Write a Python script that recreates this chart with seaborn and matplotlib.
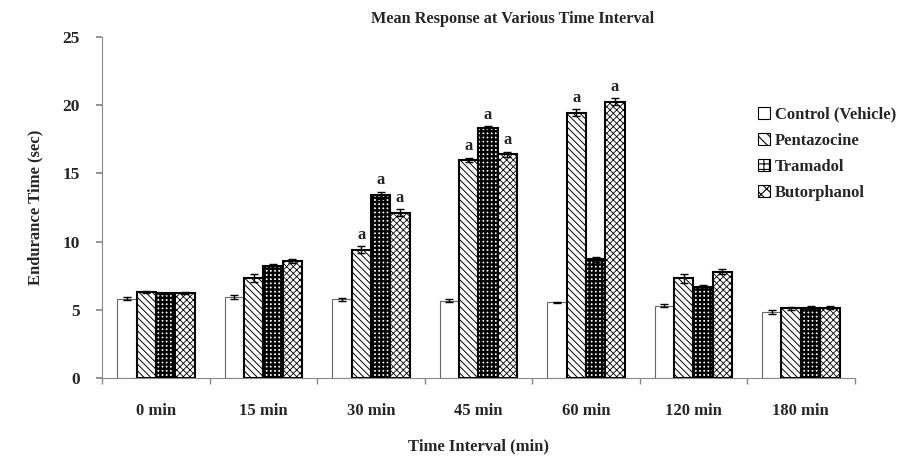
import numpy as np
import pandas as pd
import matplotlib
matplotlib.use('Agg')
import matplotlib.pyplot as plt
import seaborn as sns

# ------------------------------------------------------------
# Данные
# ------------------------------------------------------------
intervals = ["0 min", "15 min", "30 min", "45 min", "60 min", "120 min", "180 min"]
groups = ["Control (Vehicle)", "Pentazocine", "Tramadol", "Butorphanol"]

control = [5.8, 5.9, 5.75, 5.65, 5.55, 5.3, 4.85]
pentazocine = [6.3, 7.3, 9.4, 16.0, 19.45, 7.3, 5.1]
tramadol = [6.2, 8.2, 13.4, 18.3, 8.7, 6.65, 5.15]
butorphanol = [6.2, 8.6, 12.1, 16.4, 20.25, 7.8, 5.15]

control_err = [0.12, 0.15, 0.1, 0.1, 0.05, 0.1, 0.15]
pentazocine_err = [0.1, 0.3, 0.25, 0.15, 0.25, 0.35, 0.1]
tramadol_err = [0.05, 0.15, 0.25, 0.15, 0.2, 0.15, 0.1]
butorphanol_err = [0.08, 0.15, 0.25, 0.2, 0.25, 0.2, 0.1]

# значимые отличия ("a"): (группа, интервал)
signif = [
    ("Pentazocine", "30 min"), ("Tramadol", "30 min"), ("Butorphanol", "30 min"),
    ("Pentazocine", "45 min"), ("Tramadol", "45 min"), ("Butorphanol", "45 min"),
    ("Pentazocine", "60 min"), ("Butorphanol", "60 min"),
]

values = [control, pentazocine, tramadol, butorphanol]
errors = [control_err, pentazocine_err, tramadol_err, butorphanol_err]

df = pd.DataFrame({
    "interval": np.tile(intervals, len(groups)),
    "group": np.repeat(groups, len(intervals)),
    "value": np.concatenate(values),
})

# ------------------------------------------------------------
# Визуализация
# ------------------------------------------------------------
sns.set_theme(style="white")
plt.rcParams['font.family'] = ['Liberation Serif', 'DejaVu Serif']
plt.rcParams['hatch.linewidth'] = 0.8

fig = plt.figure(figsize=(9.13, 4.62), dpi=100)
ax = fig.add_axes([0.112, 0.182, 0.824, 0.738])

sns.barplot(
    data=df, x="interval", y="value", hue="group",
    order=intervals, hue_order=groups,
    palette=["white"] * 4, errorbar=None, width=0.72, gap=0,
    saturation=1, ax=ax, legend=True,
)

hatches = [None, "\\\\\\\\\\", "++++", "xxxxx"]
hatch_lw = [0.8, 0.7, 1.7, 0.6]
bar_containers = list(ax.containers)
for i, cont in enumerate(bar_containers):
    for j, bar in enumerate(cont.patches):
        if i == 0:
            bar.set_edgecolor("#666666")
            bar.set_linewidth(0.8)
        else:
            bar.set_edgecolor("black")
            bar.set_linewidth(1.5)
            bar.set_hatch(hatches[i])
            if hasattr(bar, "set_hatch_linewidth"):
                bar.set_hatch_linewidth(hatch_lw[i])
        xc = bar.get_x() + bar.get_width() / 2
        top = bar.get_height()
        err = errors[i][j]
        ax.errorbar(xc, top, yerr=err, fmt="none", ecolor="black",
                    elinewidth=1, capsize=3, capthick=1, zorder=5)
        if (groups[i], intervals[j]) in signif:
            ax.text(xc, top + err + 0.25, "a", ha="center", va="bottom",
                    fontsize=12, fontweight="bold")

ax.set_ylim(0, 25)
ax.set_xlim(-0.5, len(intervals) - 0.5)
ax.set_yticks(range(0, 26, 5))
ax.tick_params(axis="y", which="major", left=True, length=4, color="#888888",
               labelsize=12.5, pad=12)
ax.tick_params(axis="x", which="major", length=0, labelsize=12, pad=18)
ax.set_xticks(np.arange(-0.5, len(intervals)), minor=True)
ax.tick_params(axis="x", which="minor", bottom=True, length=4, color="#888888")
for lbl in ax.get_xticklabels() + ax.get_yticklabels():
    lbl.set_fontweight("bold")

for side in ["top", "right"]:
    ax.spines[side].set_visible(False)
for side in ["left", "bottom"]:
    ax.spines[side].set_color("#888888")
    ax.spines[side].set_linewidth(0.8)

ax.set_xlabel("Time Interval (min)", fontsize=12, fontweight="bold", labelpad=14)
ax.set_ylabel("Endurance Time (sec)", fontsize=12, fontweight="bold", labelpad=14)
ax.set_title("Mean Response at Various Time Interval", fontsize=11.7,
             fontweight="bold", pad=10, x=0.546)

leg = ax.legend(loc="upper left", bbox_to_anchor=(0.872, 0.795), frameon=False,
                prop={"weight": "bold", "size": 12}, handlelength=0.7,
                handleheight=0.7, handletextpad=0.3, labelspacing=0.6,
                borderaxespad=0, borderpad=0)
for i, h in enumerate(leg.legend_handles):
    h.set_facecolor("white")
    h.set_edgecolor("black")
    h.set_linewidth(0.8)
    if hatches[i]:
        h.set_hatch(hatches[i][:3])

fig.savefig("out.png", dpi=100, facecolor="white")
plt.close(fig)
